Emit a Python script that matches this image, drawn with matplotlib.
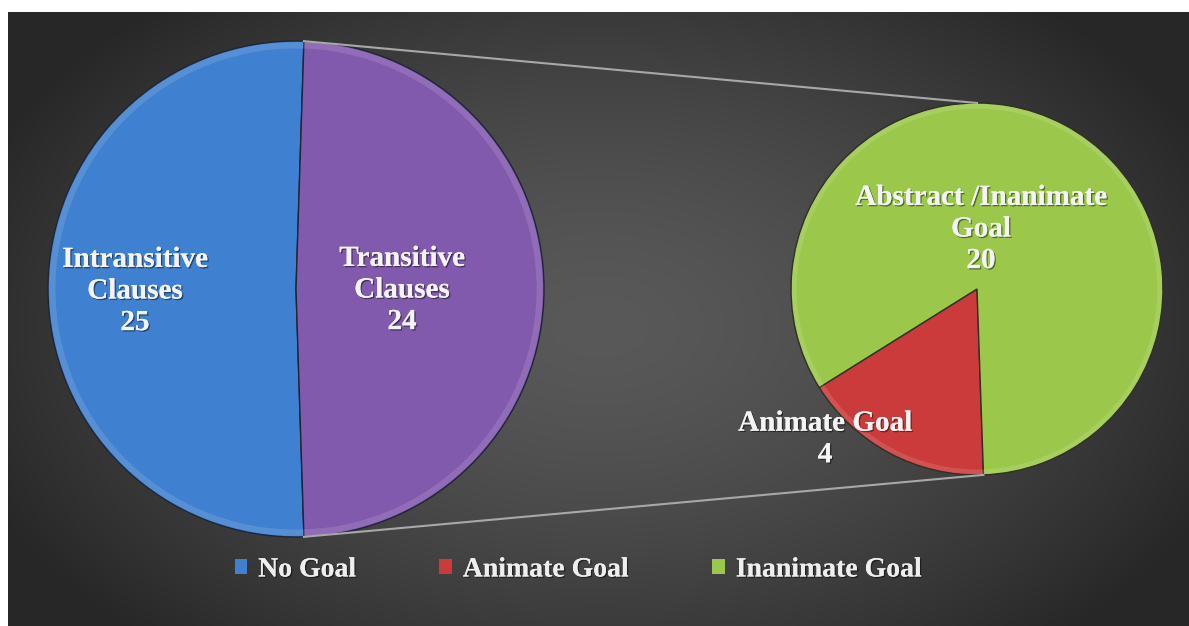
import numpy as np
import matplotlib
matplotlib.use("Agg")
import matplotlib.pyplot as plt
import matplotlib.patheffects as pe
from matplotlib.patches import Patch

# data
main_labels = ["Intransitive\nClauses", "Transitive\nClauses"]
main_values = [25, 24]
sub_labels = ["Animate Goal", "Abstract /Inanimate\nGoal"]
sub_values = [4, 20]
legend_labels = ["No Goal", "Animate Goal", "Inanimate Goal"]

blue = "#4080d0"
purple = "#8159ad"
red = "#cb3b3b"
green = "#9bc84b"

W, H = 1189, 626
fig = plt.figure(figsize=(W / 100, H / 100), dpi=100)
fig.patch.set_facecolor("white")
ax = fig.add_axes([0, 0, 1, 1])

# dark radial background (white strip left and top like the screenshot)
xs = np.linspace(8, W, 600)
ys = np.linspace(0, H - 12, 320)
gx, gy = np.meshgrid(xs, ys)
t = np.sqrt(((gx - 600) / 520) ** 2 + ((gy - 300) / 330) ** 2)
t = np.clip(t / 1.3, 0, 1) ** 1.5
shade = (0x59 - (0x59 - 0x27) * t) / 255
ax.imshow(np.dstack([shade, shade, shade]), extent=[8, W, 0, H - 12],
          origin="lower", zorder=0, aspect="auto")

font = "Liberation Serif"
shadow = [pe.withSimplePatchShadow(offset=(1, -1), shadow_rgbFace="black", alpha=0.45), pe.Normal()]

# main pie, split slice centred on the right side
c1 = (296, H - 289)
r1 = 248
start1 = main_values[1] / sum(main_values) * 180
ax.pie(main_values, colors=[blue, purple], startangle=start1, center=c1,
       radius=r1, frame=True,
       wedgeprops=dict(edgecolor="#1e2535", linewidth=1.0))

# second pie
c2 = (977, H - 289)
r2 = 186
ax.pie(sub_values, colors=[red, green], startangle=212, center=c2,
       radius=r2, frame=True,
       wedgeprops=dict(edgecolor="#303025", linewidth=1.0))

# bevel highlight rings
for c, r in [(c1, r1), (c2, r2)]:
    ax.pie([1], colors=["white"], center=c, radius=r * 0.995, frame=True,
           wedgeprops=dict(width=r * 0.025, alpha=0.12, linewidth=0))

ax.set_xlim(0, W)
ax.set_ylim(0, H)
ax.set_aspect("equal")
ax.axis("off")

# connector lines
a_top = np.deg2rad(start1)
a_bot = np.deg2rad(-start1)
p_top = (c1[0] + r1 * np.cos(a_top), c1[1] + r1 * np.sin(a_top))
p_bot = (c1[0] + r1 * np.cos(a_bot), c1[1] + r1 * np.sin(a_bot))
q_top = (c2[0], c2[1] + r2)
b_ang = np.deg2rad(212 + sub_values[0] / sum(sub_values) * 360)
q_bot = (c2[0] + r2 * np.cos(b_ang), c2[1] + r2 * np.sin(b_ang))
ax.plot([p_top[0], q_top[0]], [p_top[1], q_top[1]], color="#a8a8a8", lw=1.5, zorder=1)
ax.plot([p_bot[0], q_bot[0]], [p_bot[1], q_bot[1]], color="#a8a8a8", lw=1.5, zorder=1)

# data labels
label_pos = [(135, H - 291), (402, H - 290)]
for lab, v, (x, y) in zip(main_labels, main_values, label_pos):
    ax.text(x, y, f"{lab}\n{v}", ha="center", va="center", color="#f4f4f4",
            fontsize=21, fontweight="bold", family=font, linespacing=1.22,
            path_effects=shadow, zorder=5)
sub_pos = [(825, H - 439), (981, H - 229)]
for lab, v, (x, y) in zip(sub_labels, sub_values, sub_pos):
    ax.text(x, y, f"{lab}\n{v}", ha="center", va="center", color="#f4f4f4",
            fontsize=21, fontweight="bold", family=font, linespacing=1.22,
            path_effects=shadow, zorder=5)

# legend
handles = [Patch(facecolor=c, edgecolor="none") for c in [blue, red, green]]
leg = fig.legend(handles, legend_labels, loc="center", bbox_to_anchor=(578 / W, 1 - 570 / H),
                 ncol=3, frameon=False, handlelength=0.45, handleheight=0.45,
                 handletextpad=0.4, columnspacing=3.0,
                 prop=dict(family=font, weight="bold", size=20))
for txt in leg.get_texts():
    txt.set_color("#eeeeee")
    txt.set_path_effects(shadow)

fig.savefig("out.png", dpi=100, facecolor=fig.get_facecolor())
